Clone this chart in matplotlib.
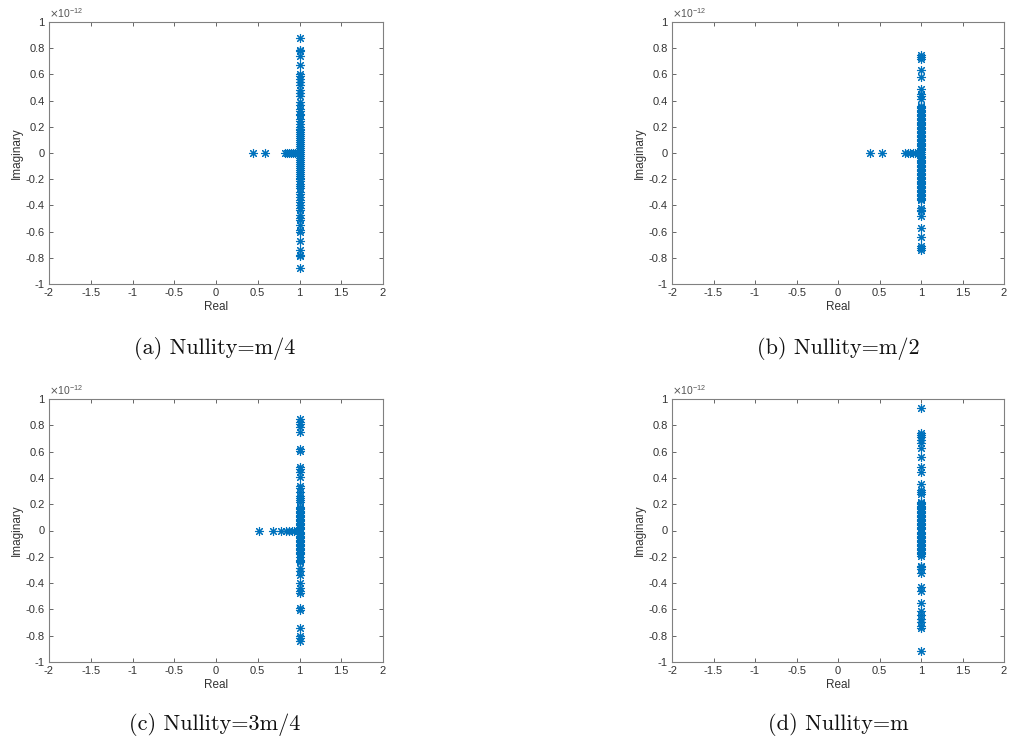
import numpy as np
import matplotlib
matplotlib.use("Agg")
import matplotlib.pyplot as plt
from matplotlib.ticker import FuncFormatter

# ---------------- data (imaginary parts in units of 1e-12) ----------------
# (a) Nullity = m/4
a_axis_real = [0.44, 0.59, 0.83, 0.855, 0.875, 0.90, 0.925, 0.95, 0.975]
a_col_imag = [0.88, 0.79, 0.78, 0.74, 0.67, 0.60, 0.585, 0.567, 0.54, 0.517, 0.478,
              0.46, 0.435, 0.39, 0.364, 0.338, 0.32, 0.30, 0.29, 0.262, 0.245, 0.224,
              0.20, 0.185, 0.173, 0.16, 0.145, 0.13, 0.115, 0.10, 0.085, 0.07, 0.055,
              0.04, 0.025, 0.01, -0.01, -0.025, -0.04, -0.055, -0.07, -0.085, -0.10,
              -0.115, -0.13, -0.145, -0.16, -0.175, -0.19, -0.2, -0.215, -0.234,
              -0.25, -0.27, -0.30, -0.31, -0.336, -0.355, -0.374, -0.40, -0.42,
              -0.437, -0.476, -0.495, -0.514, -0.552, -0.59, -0.60, -0.67, -0.74,
              -0.79, -0.78, -0.88]

# (b) Nullity = m/2
b_axis_real = [0.39, 0.53, 0.81, 0.84, 0.87, 0.90, 0.93, 0.96]
b_col_imag = [0.747, 0.73, 0.714, 0.635, 0.577, 0.489, 0.45, 0.433, 0.413, 0.362,
              0.35, 0.34, 0.33, 0.32, 0.31, 0.30, 0.29, 0.28, 0.27, 0.26, 0.25,
              0.24, 0.23, 0.22, 0.21, 0.20, 0.19, 0.18, 0.17, 0.16, 0.15, 0.14,
              0.13, 0.12, 0.11, 0.10, 0.09, 0.08, 0.07, 0.06, 0.05, 0.04, 0.03,
              0.02, 0.01, -0.01, -0.02, -0.03, -0.04, -0.05, -0.06, -0.07, -0.08,
              -0.09, -0.10, -0.11, -0.12, -0.13, -0.14, -0.15, -0.16, -0.17, -0.18,
              -0.19, -0.20, -0.21, -0.22, -0.23, -0.24, -0.25, -0.26, -0.27, -0.28,
              -0.29, -0.30, -0.31, -0.32, -0.33, -0.34, -0.35, -0.36, -0.42, -0.433,
              -0.443, -0.48, -0.575, -0.638, -0.71, -0.727, -0.744]

# (c) Nullity = 3m/4
c_axis_real = [0.52, 0.68, 0.78, 0.84, 0.87, 0.91, 0.94, 0.97]
c_col_imag = [0.846, 0.828, 0.808, 0.79, 0.752, 0.618, 0.605, 0.48, 0.466, 0.448,
              0.41, 0.34, 0.32, 0.296, 0.263, 0.245, 0.235, 0.22, 0.18, 0.17, 0.16,
              0.15, 0.14, 0.13, 0.12, 0.11, 0.10, 0.09, 0.08, 0.07, 0.06, 0.05,
              0.04, 0.03, 0.02, 0.01, -0.01, -0.02, -0.03, -0.04, -0.05, -0.06,
              -0.07, -0.08, -0.09, -0.10, -0.11, -0.12, -0.13, -0.14, -0.15, -0.16,
              -0.17, -0.18, -0.20, -0.223, -0.233, -0.243, -0.286, -0.31, -0.337,
              -0.40, -0.438, -0.458, -0.476, -0.59, -0.603, -0.742, -0.80, -0.818,
              -0.838]

# (d) Nullity = m
d_axis_real = []
d_col_imag = [0.929, 0.744, 0.727, 0.709, 0.689, 0.668, 0.625, 0.557, 0.48, 0.448,
              0.354, 0.309, 0.289, 0.28, 0.22, 0.208, 0.20, 0.19, 0.18, 0.17, 0.16,
              0.15, 0.14, 0.13, 0.12, 0.11, 0.10, 0.09, 0.08, 0.07, 0.06, 0.05,
              0.04, 0.03, 0.02, 0.01, -0.01, -0.02, -0.03, -0.04, -0.05, -0.06,
              -0.07, -0.08, -0.09, -0.10, -0.11, -0.12, -0.13, -0.14, -0.15, -0.16,
              -0.17, -0.18, -0.197, -0.273, -0.28, -0.29, -0.324, -0.43, -0.463,
              -0.552, -0.615, -0.64, -0.673, -0.699, -0.724, -0.742, -0.919]

col_real = 1.0
captions = ["(a) Nullity=m/4", "(b) Nullity=m/2", "(c) Nullity=3m/4", "(d) Nullity=m"]
panels = [(a_axis_real, a_col_imag), (b_axis_real, b_col_imag),
          (c_axis_real, c_col_imag), (d_axis_real, d_col_imag)]
x_ticks = [-2, -1.5, -1, -0.5, 0, 0.5, 1, 1.5, 2]
y_ticks = [-1, -0.8, -0.6, -0.4, -0.2, 0, 0.2, 0.4, 0.6, 0.8, 1]

# ---------------- layout ----------------
W, H = 1010, 748
fig = plt.figure(figsize=(W / 100, H / 100), dpi=100)

boxes = [(49, 22, 383, 284), (672, 22, 1004, 284),
         (49, 399, 383, 662), (672, 399, 1004, 662)]
cap_pos = [(215, 348), (838, 348), (215, 725), (838, 725)]

blue = "#0072BD"
gray = "#4d4d4d"
fmt = FuncFormatter(lambda v, p: "%g" % (v + 0.0) if abs(v) > 1e-9 else "0")

for (l, t, r, b), (axr, colimag), cap, (cx, cy) in zip(boxes, panels, captions, cap_pos):
    ax = fig.add_axes([l / W, 1 - b / H, (r - l) / W, (b - t) / H])
    xs = list(axr) + [col_real] * len(colimag)
    ys = [0.0] * len(axr) + list(colimag)
    ax.plot(xs, ys, linestyle="none", marker=(8, 2, 0), markersize=6.5,
            markeredgewidth=0.8, color=blue)
    ax.set_xlim(-2, 2)
    ax.set_ylim(-1, 1)
    ax.set_xticks(x_ticks)
    ax.set_yticks(y_ticks)
    ax.xaxis.set_major_formatter(fmt)
    ax.yaxis.set_major_formatter(fmt)
    ax.tick_params(direction="in", top=True, right=True, length=3, width=0.6,
                   colors=gray, labelsize=8, pad=3)
    for s in ax.spines.values():
        s.set_color("#808080")
        s.set_linewidth(0.8)
    for lab in ax.get_xticklabels() + ax.get_yticklabels():
        lab.set_color("#333333")
        lab.set_family("Liberation Sans")
    ax.set_xlabel("Real", fontsize=8.5, color="#333333", labelpad=2,
                  family="Liberation Sans")
    ax.set_ylabel("Imaginary", fontsize=8.5, color="#333333", labelpad=2,
                  family="Liberation Sans")
    ax.text(0.0, 1.008, r"$\times\mathregular{10^{-12}}$", transform=ax.transAxes,
            fontsize=7.5, color="#555555", ha="left", va="bottom",
            family="Liberation Sans")
    fig.text(cx / W, 1 - cy / H, cap, fontsize=16, family="cmr10",
             ha="center", va="center", color="#111111")

fig.savefig("out.png", dpi=100)
